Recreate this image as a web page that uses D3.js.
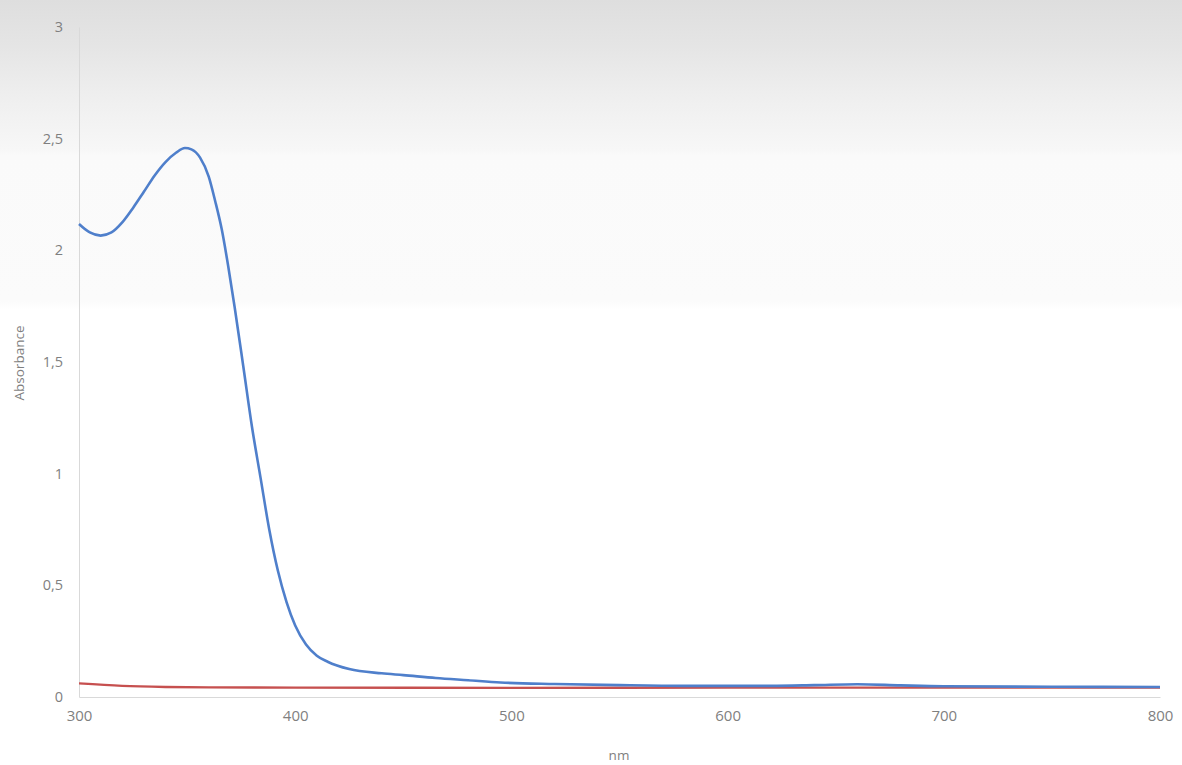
<!DOCTYPE html>
<html>
<head>
<meta charset="utf-8">
<script src="https://cdn.jsdelivr.net/npm/d3@7"></script>
<style>
  html, body { margin: 0; padding: 0; background: #ffffff; }
  svg { display: block; }
  .tick text { font-family: "Open Sans", sans-serif; }
</style>
</head>
<body>
<svg id="chart" width="1182" height="765"></svg>
<script>
// Absorbance spectra, 300–800 nm
const wavelengthsA = [300, 305, 310, 315, 320, 325, 330, 335, 340, 345, 349, 352, 356, 360, 363, 366, 369, 372, 376, 380, 384, 388, 392, 396, 400, 405, 410, 415, 425, 440, 450, 465, 480, 495, 520, 550, 580, 620, 640, 660, 680, 700, 750, 800];
const absorbanceA  = [2.118, 2.080, 2.066, 2.080, 2.125, 2.190, 2.262, 2.335, 2.395, 2.438, 2.458, 2.452, 2.415, 2.330, 2.220, 2.095, 1.930, 1.745, 1.480, 1.210, 0.980, 0.750, 0.565, 0.425, 0.320, 0.235, 0.185, 0.158, 0.125, 0.106, 0.098, 0.085, 0.075, 0.065, 0.058, 0.053, 0.050, 0.050, 0.053, 0.057, 0.052, 0.048, 0.046, 0.045];

const wavelengthsB = [300, 320, 340, 360, 400, 500, 600, 700, 800];
const absorbanceB  = [0.061, 0.050, 0.045, 0.043, 0.042, 0.041, 0.042, 0.042, 0.042];

const xTicks = [300, 400, 500, 600, 700, 800];
const yTicks = [0, 0.5, 1, 1.5, 2, 2.5, 3];

const xTitle = "nm";
const yTitle = "Absorbance";

const svg = d3.select("#chart");
const W = 1182, H = 765;

// soft grey header band fading to white
const defs = svg.append("defs");
const grad = defs.append("linearGradient")
  .attr("id", "bg").attr("x1", 0).attr("y1", 0).attr("x2", 0).attr("y2", 1);
[[0, "#dedede"], [0.15, "#e5e5e5"], [0.3, "#eeeeee"], [0.48, "#f7f7f7"], [0.5, "#fafafa"], [0.97, "#fbfbfb"], [1, "#ffffff"]]
  .forEach(([o, c]) => grad.append("stop").attr("offset", o).attr("stop-color", c));
svg.append("rect").attr("width", W).attr("height", H).attr("fill", "#ffffff");
svg.append("rect").attr("width", W).attr("height", 310).attr("fill", "url(#bg)");

const x = d3.scaleLinear().domain([300, 800]).range([79, 1160]);
const y = d3.scaleLinear().domain([0, 3]).range([697, 27]);

const fmt = d => String(d).replace(".", ",");

// y axis
const gy = svg.append("g").attr("transform", `translate(${x(300)},0)`)
  .call(d3.axisLeft(y).tickValues(yTicks).tickFormat(fmt).tickSize(0).tickPadding(16));
gy.select(".domain").attr("stroke", "#d9d9d9").attr("stroke-width", 1);
gy.selectAll(".tick text").attr("fill", "#7f7f7f").attr("font-size", 14.5);

// x axis
const gx = svg.append("g").attr("transform", `translate(0,${y(0)})`)
  .call(d3.axisBottom(x).tickValues(xTicks).tickSize(0).tickPadding(13));
gx.select(".domain").attr("stroke", "#d9d9d9").attr("stroke-width", 1.2);
gx.selectAll(".tick text").attr("fill", "#7f7f7f").attr("font-size", 15);

// axis titles
svg.append("text").attr("x", 619).attr("y", 760)
  .attr("text-anchor", "middle").attr("font-family", "Open Sans, sans-serif")
  .attr("font-size", 13.5).attr("fill", "#7f7f7f").text(xTitle);
svg.append("text").attr("transform", "translate(24,363) rotate(-90)")
  .attr("text-anchor", "middle").attr("font-family", "Open Sans, sans-serif")
  .attr("font-size", 13.5).attr("fill", "#7f7f7f").text(yTitle);

const line = d3.line().x(d => x(d[0])).y(d => y(d[1])).curve(d3.curveMonotoneX);

svg.append("path")
  .datum(d3.zip(wavelengthsB, absorbanceB))
  .attr("fill", "none").attr("stroke", "#c6504f").attr("stroke-width", 2.4)
  .attr("d", line);

svg.append("path")
  .datum(d3.zip(wavelengthsA, absorbanceA))
  .attr("fill", "none").attr("stroke", "#4f7fcb").attr("stroke-width", 2.6)
  .attr("stroke-linejoin", "round")
  .attr("d", line);
</script>
</body>
</html>
